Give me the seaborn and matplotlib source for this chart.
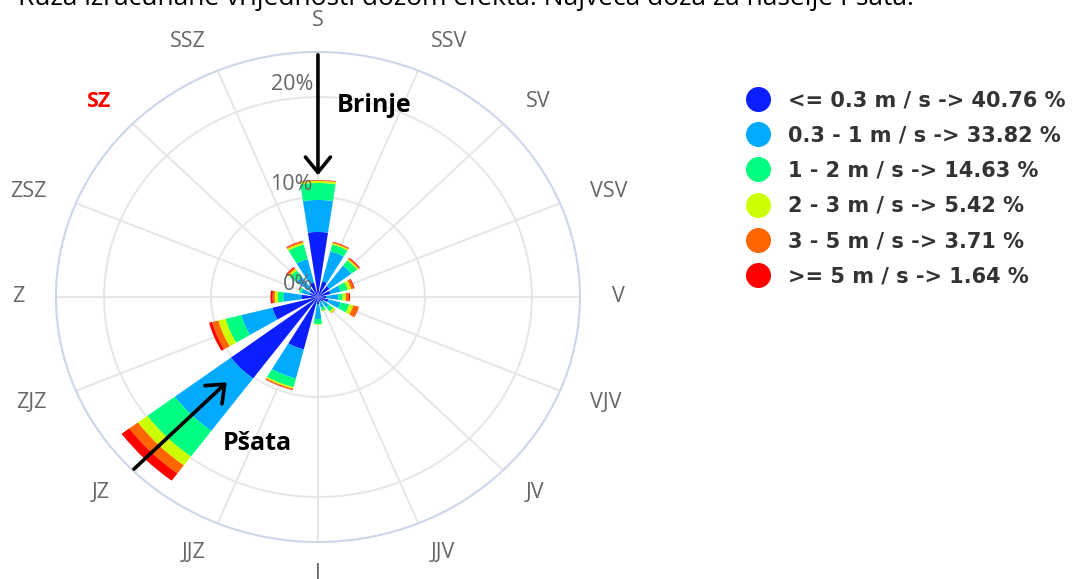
import numpy as np
import pandas as pd
import matplotlib
matplotlib.use("Agg")
import matplotlib.pyplot as plt
import seaborn as sns
from matplotlib.transforms import offset_copy
from matplotlib.lines import Line2D

# ---------------- data ----------------
directions = ["S", "SSV", "SV", "VSV", "V", "VJV", "JV", "JJV",
              "J", "JJZ", "JZ", "ZJZ", "Z", "ZSZ", "SZ", "SSZ"]
speed_labels = ["<= 0.3 m / s -> 40.76 %", "0.3 - 1 m / s -> 33.82 %",
                "1 - 2 m / s -> 14.63 %", "2 - 3 m / s -> 5.42 %",
                "3 - 5 m / s -> 3.71 %", ">= 5 m / s -> 1.64 %"]
band_le03 = [6.5, 1.6, 1.35, 1.2, 0.8, 1.0, 0.6, 0.5, 0.7, 5.4, 10.15, 4.4, 1.5, 0.8, 1.0, 1.5]
band_03_1 = [3.2, 3.1, 2.55, 1.0, 1.1, 1.17, 0.7, 0.6, 1.5, 3.0, 6.55, 3.0, 1.74, 0.8, 1.5, 2.4]
band_1_2 = [1.7, 0.7, 0.66, 0.67, 0.4, 0.83, 0.5, 0.3, 0.5, 0.9, 3.2, 1.5, 0.5, 0.2, 0.8, 1.5]
band_2_3 = [0.2, 0.15, 0.14, 0.33, 0.3, 0.4, 0.2, 0.1, 0.06, 0.15, 1.1, 0.7, 0.3, 0.05, 0.2, 0.2]
band_3_5 = [0.07, 0.1, 0.12, 0.25, 0.3, 0.5, 0.05, 0.0, 0.0, 0.1, 1.0, 0.6, 0.2, 0.0, 0.15, 0.15]
band_ge5 = [0.03, 0.05, 0.08, 0.09, 0.1, 0.05, 0.0, 0.0, 0.0, 0.05, 0.9, 0.3, 0.2, 0.0, 0.1, 0.05]
ring_values = [0, 10, 20]
ring_labels = ["0%", "10%", "20%"]
title_text = "Ruža izračunane vrijednosti dozom efekta. Najveća doza za naselje Pšata."

colors = ["#0a1eff", "#00aaff", "#00ff80", "#ccff00", "#ff6600", "#ff0000"]
bands = [band_le03, band_03_1, band_1_2, band_2_3, band_3_5, band_ge5]

df = pd.DataFrame({"dir": directions})
for lab, vals in zip(speed_labels, bands):
    df[lab] = vals
df["theta"] = np.deg2rad(np.arange(len(directions)) * 360.0 / len(directions))

# ---------------- style ----------------
sns.set_theme(style="white")
plt.rcParams["font.family"] = ["Open Sans", "DejaVu Sans"]

fig = plt.figure(figsize=(10.72, 5.79), dpi=100)
ax = fig.add_axes([0.0522, 0.0639, 0.4888, 0.8463], projection="polar")
ax.set_aspect("auto")
ax.set_theta_zero_location("N")
ax.set_theta_direction(-1)
ax.set_ylim(0, 24.5)

sector = 2 * np.pi / len(directions)
width = sector * 0.74
bottom = np.zeros(len(directions))
for lab, col in zip(speed_labels, colors):
    vals = df[lab].to_numpy()
    ax.bar(df["theta"], vals, width=width, bottom=bottom, color=col,
           edgecolor="none", linewidth=0, zorder=3, align="center")
    bottom = bottom + vals

# grid
ax.set_thetagrids(np.rad2deg(df["theta"]), labels=directions)
ax.set_rgrids(ring_values[1:], labels=[""] * (len(ring_values) - 1))
ax.grid(True, color="#e6e6e6", linewidth=1.4, zorder=0)
ax.set_axisbelow(True)
ax.spines["polar"].set_color("#ccd6eb")
ax.spines["polar"].set_linewidth(1.5)
ax.tick_params(axis="x", pad=10, labelsize=15.5, colors="#666666")
for tl, th in zip(ax.get_xticklabels(), df["theta"]):
    s = np.sin(th)
    if s > 0.05:
        tl.set_horizontalalignment("left")
    elif s < -0.05:
        tl.set_horizontalalignment("right")
    if tl.get_text() == "SZ":
        tl.set_color("red")
        tl.set_fontweight("bold")

# ring labels
tr = offset_copy(ax.transData, fig=fig, x=-5, y=12, units="dots")
for rv, rl in zip(ring_values, ring_labels):
    ax.text(0, rv, rl, transform=tr, ha="right", va="center",
            fontsize=15.5, color="#666666", zorder=5)

# arrows
arrow_kw = dict(arrowstyle="->,head_length=0.55,head_width=0.45",
                lw=2.6, color="black", mutation_scale=20)
ax.annotate("", xy=(0, 11.9), xytext=(0, 24.5), arrowprops=arrow_kw,
            annotation_clip=False, zorder=6)
ax.annotate("", xy=(np.deg2rad(225), 11.8), xytext=(np.deg2rad(225), 24.6),
            arrowprops=arrow_kw, annotation_clip=False, zorder=6)
fig.text(374 / 1072, 1 - 105 / 579, "Brinje", fontsize=18, fontweight="bold",
         ha="center", va="center", color="black")
fig.text(257 / 1072, 1 - 443 / 579, "Pšata", fontsize=18, fontweight="bold",
         ha="center", va="center", color="black")

# title (clipped at top in reference)
fig.text(18 / 1072, 1 - 5 / 579, title_text, fontsize=19, ha="left",
         va="baseline", color="black")

# legend
handles = [Line2D([], [], marker="o", linestyle="none", markersize=17,
                  markerfacecolor=c, markeredgecolor=c) for c in colors]
leg = fig.legend(handles, speed_labels, loc="upper left",
                 bbox_to_anchor=(748 / 1072, 1 - 90 / 579), frameon=False,
                 borderpad=0, borderaxespad=0, handlelength=1.0,
                 handletextpad=0.92, labelspacing=0.735,
                 prop={"family": "DejaVu Sans", "weight": "bold", "size": 15})
for t in leg.get_texts():
    t.set_color("#333333")

fig.savefig("out.png", dpi=100)
